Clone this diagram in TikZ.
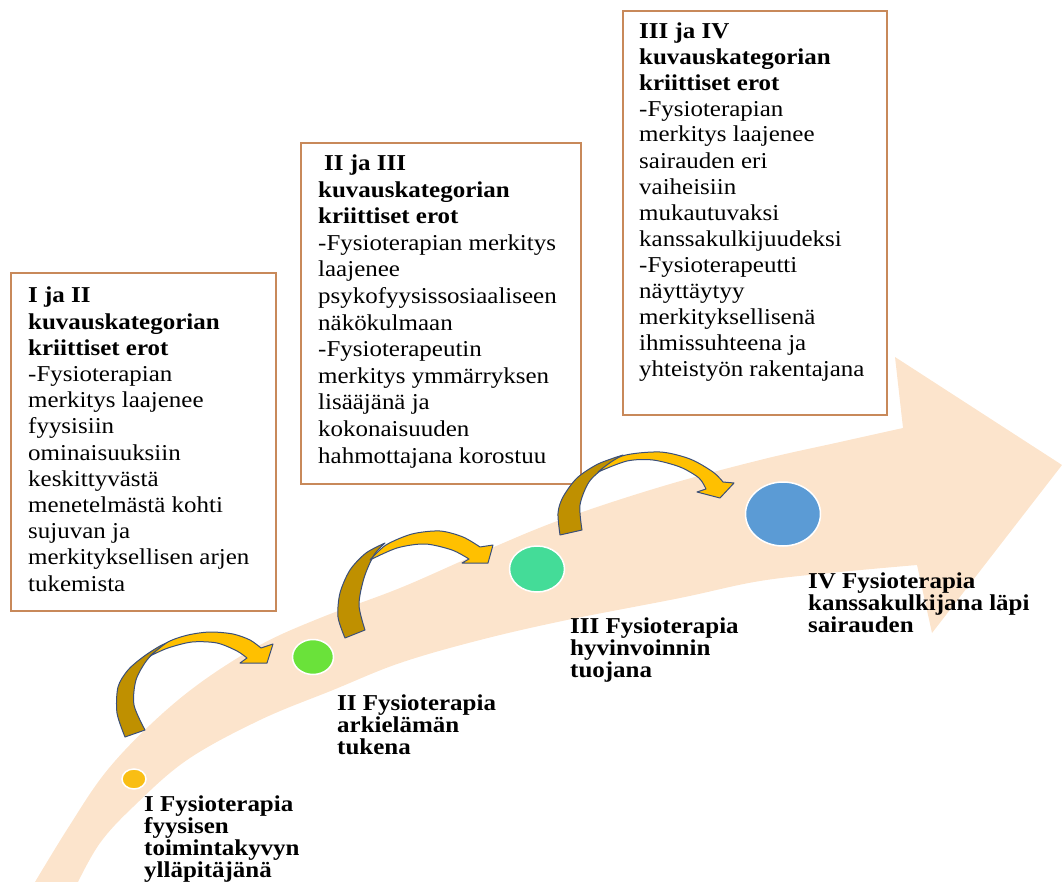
\documentclass[tikz,border=0pt]{standalone}
\usepackage{fontspec}
\setmainfont{Liberation Serif}[FakeStretch=1.1]
\usetikzlibrary{shapes.geometric}
\definecolor{peach}{HTML}{FCE4CC}
\definecolor{boxline}{HTML}{C8895A}
\definecolor{dgold}{HTML}{BF9000}
\definecolor{ygold}{HTML}{FFC000}
\definecolor{navy}{HTML}{3A4F7A}
\definecolor{cI}{HTML}{F9BE14}
\definecolor{cII}{HTML}{6AE23A}
\definecolor{cIII}{HTML}{44DC98}
\definecolor{cIV}{HTML}{5B9BD5}
\begin{document}
\begin{tikzpicture}[x=1pt,y=-1pt,
  frame/.style={draw=boxline, line width=1.8pt, fill=white, inner sep=0pt, anchor=north west},
  boxtext/.style={anchor=base west, align=left, inner sep=0pt, font=\fontsize{22.7}{26.2}\selectfont},
  lbl/.style={anchor=base west, align=left, inner sep=0pt, font=\bfseries\fontsize{22.7}{21.8}\selectfont},
  dot/.style={ellipse, draw=white, line width=1.5pt, inner sep=0pt},
  arrowdark/.style={fill=dgold, draw=navy, line width=1pt, line join=round},
  arrowlight/.style={fill=ygold, draw=navy, line width=1pt, line join=round}]
\useasboundingbox (0,0) rectangle (1062,882);

% big background arrow
\fill[peach] plot[smooth, tension=0.6] coordinates {(35,882) (68,828) (105,773) (150,725) (200,683) (260,645) (320,618) (400,588) (480,553) (560,520) (660,487) (760,460) (840,442) (903,428)}
  -- (895,357) -- (1062,465) -- (932,633) -- (917,565)
  -- plot[smooth, tension=0.6] coordinates {(917,565) (840,572) (760,581) (680,598) (567,620) (480,640) (400,663) (333,690) (260,720) (187,760) (133,807) (100,843) (78,882)} -- cycle;

% boxes
\node[frame, minimum width=265pt, minimum height=338pt] (b1) at (10,272) {};
\node[frame, minimum width=280pt, minimum height=341pt] (b2) at (300,142) {};
\node[frame, minimum width=264pt, minimum height=404pt] (b3) at (622,10) {};

% text nodes: anchor = baseline of the last line
\node[boxtext] (t1) at (28,591) {\textbf{I ja II}\\ \textbf{kuvauskategorian}\\ \textbf{kriittiset erot}\\ -Fysioterapian\\ merkitys laajenee\\ fyysisiin\\ ominaisuuksiin\\ keskittyvästä\\ menetelmästä kohti\\ sujuvan ja\\ merkityksellisen arjen\\ tukemista};
\node[boxtext, font=\fontsize{22.7}{26.6}\selectfont] (t2) at (318,463) {\hspace*{6pt}\textbf{II ja III}\\ \textbf{kuvauskategorian}\\ \textbf{kriittiset erot}\\ -Fysioterapian merkitys\\ laajenee\\ psykofyysissosiaaliseen\\ näkökulmaan\\ -Fysioterapeutin\\ merkitys ymmärryksen\\ lisääjänä ja\\ kokonaisuuden\\ hahmottajana korostuu};
\node[boxtext, font=\fontsize{22.7}{26}\selectfont] (t3) at (639,376) {\textbf{III ja IV}\\ \textbf{kuvauskategorian}\\ \textbf{kriittiset erot}\\ -Fysioterapian\\ merkitys laajenee\\ sairauden eri\\ vaiheisiin\\ mukautuvaksi\\ kanssakulkijuudeksi\\ -Fysioterapeutti\\ näyttäytyy\\ merkityksellisenä\\ ihmissuhteena ja\\ yhteistyön rakentajana};

% curved arrows
\filldraw[arrowdark] plot[smooth] coordinates {(125,737) (117,713) (118,687) (128,670) (143,657) (160,646) (176,639)}
  -- plot[smooth] coordinates {(176,639) (160,648) (147,660) (136,680) (134,705) (145,730)} -- cycle;
\filldraw[arrowlight] plot[smooth] coordinates {(150,656) (168,642) (188,635) (210,632) (233,634) (250,640) (261,648)}
  -- (273,644) -- (267,663) -- (240,663)
  -- plot[smooth] coordinates {(247,658) (237,651) (217,643) (192,642) (168,648) (150,656)} -- cycle;

\filldraw[arrowdark] plot[smooth] coordinates {(345,638) (338,617) (340,593) (350,570) (366,553) (385,543)}
  -- plot[smooth] coordinates {(385,543) (374,555) (364,578) (359,605) (365,630)} -- cycle;
\filldraw[arrowlight] plot[smooth] coordinates {(370,560) (386,545) (412,534) (440,531) (463,537) (480,547)}
  -- (493,545) -- (488,563) -- (462,563)
  -- plot[smooth] coordinates {(469,559) (452,550) (425,544) (397,548) (370,560)} -- cycle;

\filldraw[arrowdark] plot[smooth] coordinates {(560,535) (558,513) (563,497) (577,478) (598,464) (623,455)}
  -- plot[smooth] coordinates {(623,455) (605,467) (589,482) (580,505) (582,530)} -- cycle;
\filldraw[arrowlight] plot[smooth] coordinates {(598,472) (622,456) (660,452) (690,459) (713,472) (723,482)}
  -- (734,483) -- (720,498) -- (697,492)
  -- plot[smooth] coordinates {(706,489) (699,478) (680,467) (653,460) (627,461) (598,472)} -- cycle;

% circles
\node[dot, fill=cI, minimum width=24pt, minimum height=20pt] (c1) at (134,779) {};
\node[dot, fill=cII, minimum width=41pt, minimum height=35pt] (c2) at (313,657) {};
\node[dot, fill=cIII, minimum width=55pt, minimum height=46pt] (c3) at (537,569) {};
\node[dot, fill=cIV, minimum width=75pt, minimum height=64pt] (c4) at (783,514) {};

% labels (anchor = baseline of the last line)
\node[lbl] (l1) at (144,877) {I Fysioterapia\\ fyysisen\\ toimintakyvyn\\ ylläpitäjänä};
\node[lbl] (l2) at (337,754) {II Fysioterapia\\ arkielämän\\ tukena};
\node[lbl] (l3) at (570,677) {III Fysioterapia\\ hyvinvoinnin\\ tuojana};
\node[lbl] (l4) at (808,632) {IV Fysioterapia\\ kanssakulkijana läpi\\ sairauden};
\end{tikzpicture}
\end{document}
